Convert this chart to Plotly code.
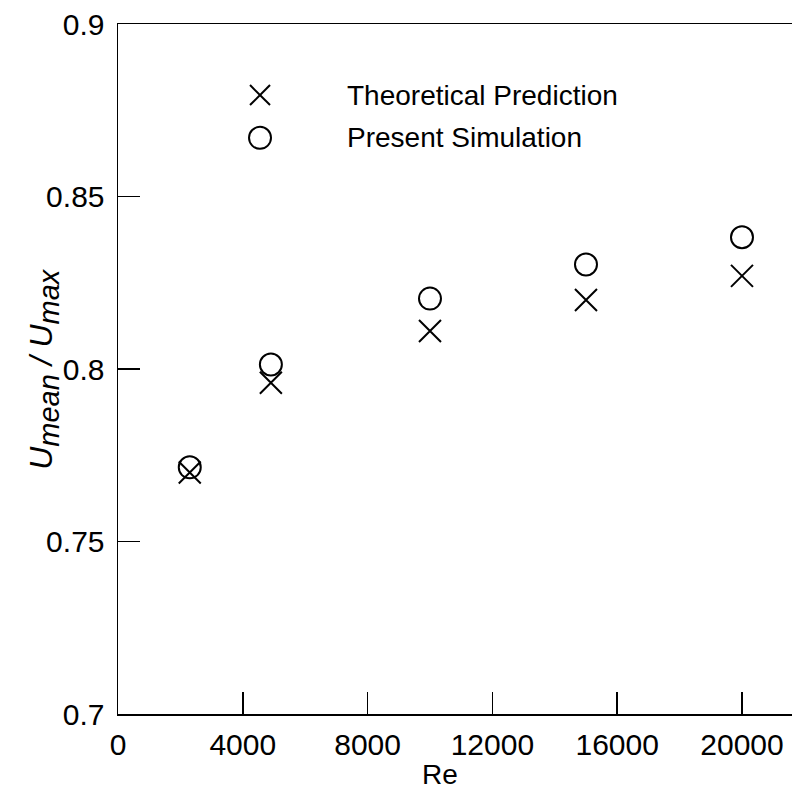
import plotly.graph_objects as go

re_values = [2300, 4900, 10000, 15000, 20000]
theory = [0.770, 0.796, 0.811, 0.820, 0.827]
simulation = [0.7715, 0.8013, 0.8204, 0.8303, 0.8382]

x_ticks = [0, 4000, 8000, 12000, 16000, 20000]
x_tick_text = ["0", "4000", "8000", "12000", "16000", "20000"]
y_ticks = [0.7, 0.75, 0.8, 0.85, 0.9]
y_tick_text = ["0.7", "0.75", "0.8", "0.85", "0.9"]

series_names = ["Theoretical Prediction", "Present Simulation"]

FONT = "Liberation Sans, Arial, sans-serif"

fig = go.Figure()
fig.add_trace(go.Scatter(
    x=re_values, y=theory, mode="markers", name=series_names[0],
    marker=dict(symbol="x-thin-open", size=22, color="black",
                line=dict(width=2, color="black")),
))
fig.add_trace(go.Scatter(
    x=re_values, y=simulation, mode="markers", name=series_names[1],
    marker=dict(symbol="circle-open", size=22, color="black",
                line=dict(width=2, color="black")),
))

# custom legend (keys as shapes, labels as annotations)
key_x = 0.2107
key_y = [0.897, 0.835]
text_x = 0.3368
shapes = []
for dx0, dy0, dx1, dy1 in [(-10, -10, 10, 10), (-10, 10, 10, -10)]:
    shapes.append(dict(type="line", xref="paper", yref="paper",
                       xsizemode="pixel", ysizemode="pixel",
                       xanchor=key_x, yanchor=key_y[0],
                       x0=dx0, y0=dy0, x1=dx1, y1=dy1,
                       line=dict(color="black", width=2)))
shapes.append(dict(type="circle", xref="paper", yref="paper",
                   xsizemode="pixel", ysizemode="pixel",
                   xanchor=key_x, yanchor=key_y[1],
                   x0=-11, y0=-11, x1=11, y1=11,
                   line=dict(color="black", width=2)))

annotations = []
for name, yy in zip(series_names, key_y):
    annotations.append(dict(text=name, xref="paper", yref="paper", x=text_x, y=yy,
                            xanchor="left", yanchor="middle", showarrow=False,
                            font=dict(size=28, color="black", family=FONT)))
annotations.append(dict(text="Re", xref="paper", yref="paper", x=0.478, y=-0.088,
                        xanchor="center", yanchor="middle", showarrow=False,
                        font=dict(size=28, color="black", family=FONT)))
annotations.append(dict(
    text="<i>U<sub><span style='font-size:29px'>mean</span></sub> / U<sub><span style='font-size:29px'>max</span></sub></i>",
    xref="paper", yref="paper", x=-0.110, y=0.50, xanchor="center", yanchor="middle",
    textangle=-90, showarrow=False, font=dict(size=32, color="black", family=FONT)))

fig.update_layout(
    width=792, height=790,
    margin=dict(l=118, r=0, t=24, b=76, autoexpand=False),
    paper_bgcolor="white", plot_bgcolor="white",
    font=dict(family=FONT, size=30, color="black"),
    showlegend=False,
    hovermode=False,
    shapes=shapes,
    annotations=annotations,
    xaxis=dict(range=[0, 21603], tickvals=x_ticks, ticktext=x_tick_text,
               ticks="inside", ticklen=22, tickwidth=1.5, tickcolor="black",
               showline=True, linecolor="black", linewidth=1.5, mirror=True,
               showgrid=False, zeroline=False, automargin=False,
               tickfont=dict(size=30), ticklabelstandoff=3,
               ticklabeloverflow="allow"),
    yaxis=dict(range=[0.7, 0.9], tickvals=y_ticks, ticktext=y_tick_text,
               ticks="inside", ticklen=22, tickwidth=1.5, tickcolor="black",
               showline=True, linecolor="black", linewidth=1.5, mirror=False,
               showgrid=False, zeroline=False, automargin=False,
               tickfont=dict(size=30), ticklabelstandoff=6,
               ticklabeloverflow="allow"),
)

fig.write_html(
    "out.html",
    config={"displayModeBar": False, "staticPlot": True},
    post_script="document.body.style.margin='0';document.body.style.overflow='hidden';",
)
